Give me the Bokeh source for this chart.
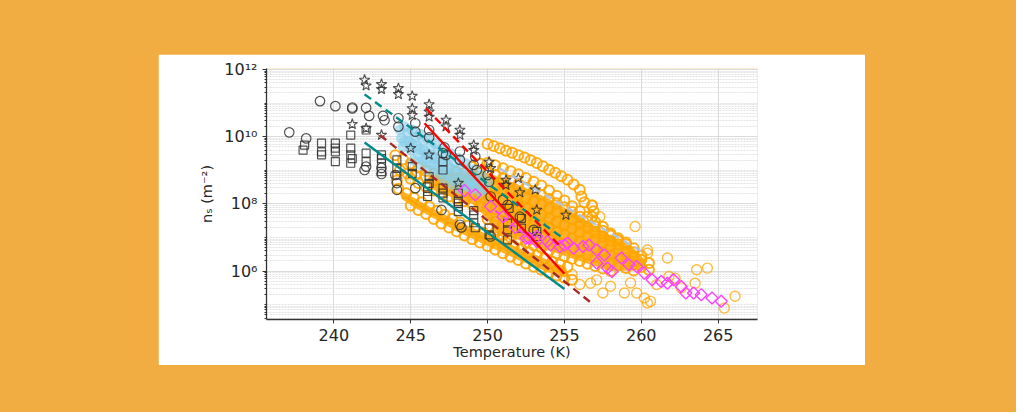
from bokeh.plotting import figure
from bokeh.models import Range1d, FixedTicker
from bokeh.layouts import column
from bokeh.embed import file_html
from bokeh.resources import INLINE

# axis ticks / labels
x_ticks = [240, 245, 250, 255, 260, 265]
y_ticks = [1e6, 1e8, 1e10, 1e12]
y_tick_labels = ["10⁶", "10⁸", "10¹⁰", "10¹²"]

# black open circles (temperature K, log10 ns)
circ_t = [237.1, 239.1, 238.2, 240.1, 241.2, 241.2, 242.1, 242.3, 243.2, 243.3, 244.2, 244.2,
          245.3, 245.3, 246.2, 246.2, 247.2, 247.3, 247.1, 248.2, 248.2, 249.2, 249.1, 249.3,
          250.0, 250.1, 251.0, 250.2, 251.3, 252.1, 253.0, 242.0, 242.1, 243.1, 243.1, 244.0,
          244.1, 244.1, 245.3, 247.0, 248.2, 248.3, 250.2]
circ_log = [10.13, 11.06, 9.95, 10.91, 10.87, 10.84, 10.86, 10.62, 10.62, 10.49, 10.55, 10.30,
            10.40, 10.15, 10.20, 9.98, 9.68, 9.46, 9.51, 9.56, 9.31, 9.41, 9.16, 9.01,
            8.86, 8.66, 8.12, 8.22, 7.97, 7.62, 7.23, 9.01, 9.11, 9.07, 8.89, 8.86,
            8.62, 8.42, 8.47, 7.82, 7.38, 7.30, 7.03]

# black open stars
star_t = [242.0, 242.1, 243.1, 243.1, 244.2, 244.2, 245.1, 245.1, 245.1, 246.2, 246.2, 246.2,
          247.3, 247.3, 248.2, 248.2, 249.1, 249.1, 250.1, 250.2, 251.2, 251.2, 252.0, 252.1,
          253.1, 253.2, 255.1, 241.2, 242.1, 245.0, 246.2, 248.1, 243.1]
star_log = [11.69, 11.52, 11.56, 11.41, 11.44, 11.26, 11.21, 10.84, 10.64, 10.96, 10.74, 10.59,
            10.50, 10.30, 10.20, 10.05, 9.75, 9.60, 9.25, 9.06, 8.71, 8.56, 8.76, 8.34,
            8.42, 7.82, 7.67, 10.37, 10.25, 9.66, 9.46, 8.62, 10.05]

# black open squares
sq_t = [238.0, 238.1, 239.2, 239.2, 239.2, 240.1, 240.1, 240.1, 241.1, 241.1, 241.1, 241.1,
        242.1, 242.1, 242.1, 243.1, 243.1, 243.1, 244.1, 244.1, 244.1, 245.1, 245.1, 246.1,
        246.1, 246.2, 246.2, 247.1, 247.1, 247.1, 247.1, 247.1, 248.1, 248.1, 248.1, 249.1,
        249.1, 249.2, 250.1, 250.1, 251.3, 251.3, 251.3, 251.4, 252.2, 252.2, 253.2, 253.2,
        240.1, 241.2, 243.1, 249.1, 248.1, 248.1, 246.1]
sq_log = [9.60, 9.75, 9.81, 9.55, 9.46, 9.81, 9.55, 9.26, 10.05, 9.66, 9.46, 9.21,
          10.20, 9.51, 9.26, 9.46, 9.21, 8.96, 9.31, 9.06, 8.86, 9.11, 8.91, 8.51,
          8.37, 8.81, 8.61, 8.47, 8.32, 8.18, 9.26, 9.01, 8.07, 7.92, 7.77, 7.67,
          7.44, 7.29, 7.28, 7.08, 7.43, 7.23, 6.93, 7.87, 7.57, 7.28, 7.18, 7.03,
          9.66, 9.35, 9.35, 7.80, 8.32, 8.02, 8.22]

# light blue cloud
blue_t = [244.3, 244.8, 245.3, 245.8, 246.3, 246.8, 247.3, 247.8, 248.3, 248.8, 249.3,
          244.4, 244.9, 245.4, 245.9, 246.4, 246.9, 247.4, 247.9, 248.4, 248.9, 249.4,
          244.5, 245.0, 245.5, 246.0, 246.5, 247.0, 247.5, 248.0, 248.5, 249.0,
          245.2, 245.7, 246.2, 246.7, 247.2, 247.7, 248.2,
          244.6, 245.1, 245.6, 246.1, 246.6, 247.1, 247.6, 248.1, 248.6, 249.1,
          244.6, 245.1, 245.6, 246.1, 246.6, 247.1, 247.6, 248.1, 248.6, 249.1, 249.6, 250.0,
          249.8, 249.5, 248.8, 245.8, 246.3, 246.8, 247.3, 247.8]
blue_log = [10.20, 10.10, 10.00, 9.88, 9.72, 9.58, 9.42, 9.26, 9.10, 8.92, 8.72,
            9.95, 9.85, 9.72, 9.58, 9.45, 9.30, 9.15, 9.00, 8.85, 8.70, 8.55,
            9.70, 9.60, 9.46, 9.32, 9.18, 9.02, 8.88, 8.72, 8.58, 8.45,
            9.30, 9.15, 9.00, 8.86, 8.72, 8.58, 8.45,
            9.85, 9.78, 9.62, 9.48, 9.33, 9.18, 9.05, 8.90, 8.74, 8.60,
            10.30, 10.20, 10.08, 9.95, 9.80, 9.65, 9.50, 9.35, 9.20, 9.02, 8.85, 8.65,
            8.45, 8.35, 8.50, 9.30, 9.15, 9.00, 8.85, 8.70]

# orange open circles, read along the visible streaks of the cloud
orange_a = [(250.0, 9.78), (250.4, 9.72), (250.8, 9.66), (251.2, 9.58), (251.6, 9.52), (252.0, 9.45),
            (252.4, 9.38), (252.8, 9.30), (253.2, 9.22), (253.6, 9.12), (254.0, 9.02), (254.4, 8.93),
            (254.8, 8.82), (255.2, 8.72), (255.6, 8.58), (256.0, 8.42), (256.1, 8.22), (256.3, 8.05),
            (256.8, 7.95), (256.9, 7.78), (256.8, 7.62)]
orange_b = [(249.0, 9.10), (249.5, 9.20), (250.0, 9.22), (250.5, 9.15), (251.0, 9.06), (251.5, 8.97),
            (252.0, 8.88), (252.5, 8.77), (253.0, 8.66), (253.5, 8.55), (254.0, 8.40), (254.5, 8.24),
            (255.0, 8.10), (255.5, 7.93), (256.0, 7.78), (256.5, 7.62), (257.0, 7.46), (257.5, 7.32),
            (258.0, 7.12), (258.5, 6.98), (259.0, 6.85)]
orange_c = [(248.0, 8.95), (248.5, 8.92), (249.0, 8.90), (249.5, 8.93), (250.0, 8.92), (250.5, 8.85),
            (251.0, 8.76), (251.5, 8.68), (252.0, 8.58), (252.5, 8.48), (253.0, 8.38), (253.5, 8.27),
            (254.0, 8.15), (254.5, 8.02), (255.0, 7.90), (255.5, 7.76), (256.0, 7.62), (256.5, 7.48),
            (257.0, 7.33), (257.5, 7.20), (258.0, 7.06), (258.5, 6.92), (259.0, 6.80), (259.5, 6.68)]
orange_d = [(247.0, 8.85), (247.5, 8.78), (248.0, 8.72), (248.5, 8.66), (249.0, 8.62), (249.5, 8.62),
            (250.0, 8.60), (250.5, 8.52), (251.0, 8.44), (251.5, 8.36), (252.0, 8.27), (252.5, 8.18),
            (253.0, 8.08), (253.5, 7.98), (254.0, 7.87), (254.5, 7.76), (255.0, 7.64), (255.5, 7.52),
            (256.0, 7.40), (256.5, 7.28), (257.0, 7.15), (257.5, 7.03), (258.0, 6.90), (258.5, 6.80),
            (259.0, 6.68), (259.5, 6.56), (260.0, 6.46)]
orange_e = [(246.0, 8.80), (246.5, 8.70), (247.0, 8.60), (247.5, 8.52), (248.0, 8.45), (248.5, 8.38),
            (249.0, 8.32), (249.5, 8.28), (250.0, 8.25), (250.5, 8.20), (251.0, 8.12), (251.5, 8.04),
            (252.0, 7.96), (252.5, 7.87), (253.0, 7.78), (253.5, 7.68), (254.0, 7.58), (254.5, 7.48),
            (255.0, 7.38), (255.5, 7.27), (256.0, 7.16), (256.5, 7.05), (257.0, 6.94), (257.5, 6.84),
            (258.0, 6.74), (258.5, 6.64), (259.0, 6.54), (259.5, 6.44), (260.0, 6.34), (260.5, 6.24)]
orange_f = [(245.0, 8.75), (245.5, 8.62), (246.0, 8.50), (246.5, 8.40), (247.0, 8.30), (247.5, 8.22),
            (248.0, 8.15), (248.5, 8.08), (249.0, 8.00), (249.5, 7.94), (250.0, 7.90), (250.5, 7.84),
            (251.0, 7.76), (251.5, 7.68), (252.0, 7.60), (252.5, 7.52), (253.0, 7.44), (253.5, 7.35),
            (254.0, 7.26), (254.5, 7.17), (255.0, 7.08), (255.5, 6.98), (256.0, 6.88), (256.5, 6.78),
            (257.0, 6.68), (257.5, 6.58), (258.0, 6.48), (258.5, 6.38), (259.0, 6.29), (259.5, 6.20),
            (260.0, 6.12), (260.5, 6.04)]
orange_g = [(250.0, 7.55), (250.5, 7.48), (251.0, 7.40), (251.5, 7.33), (252.0, 7.25), (252.5, 7.17),
            (253.0, 7.09), (253.5, 7.00), (254.0, 6.92), (254.5, 6.84), (255.0, 6.76), (255.5, 6.67),
            (256.0, 6.58), (256.5, 6.50), (257.0, 6.41), (257.5, 6.33), (258.0, 6.25), (258.5, 6.17),
            (259.0, 6.09), (259.5, 6.02)]
orange_h = [(250.5, 7.15), (251.0, 7.08), (251.5, 7.00), (252.0, 6.93), (252.5, 6.85), (253.0, 6.77),
            (253.5, 6.69), (254.0, 6.61), (254.5, 6.53), (255.0, 6.45), (255.5, 6.37), (256.0, 6.30),
            (256.5, 6.22), (257.0, 6.15), (257.5, 6.08), (258.0, 6.00)]
orange_i = [(244.2, 8.45), (244.7, 8.32), (245.2, 8.18), (245.7, 8.05), (246.2, 7.92), (246.7, 7.80),
            (247.2, 7.68), (247.7, 7.56), (248.2, 7.45), (248.7, 7.35), (249.2, 7.25), (249.7, 7.15),
            (250.2, 7.05), (250.7, 6.95), (251.2, 6.85), (251.7, 6.75), (252.2, 6.66), (252.7, 6.56),
            (253.2, 6.47), (253.7, 6.38), (254.2, 6.28), (254.7, 6.20), (255.2, 6.12)]
orange_j = [(245.0, 7.95), (245.5, 7.82), (246.0, 7.70), (246.5, 7.55), (247.0, 7.42), (247.5, 7.30),
            (248.0, 7.18), (248.5, 7.06), (249.0, 6.95), (249.5, 6.85), (250.0, 6.75), (250.5, 6.64),
            (251.0, 6.53), (251.5, 6.43), (252.0, 6.33), (252.5, 6.23), (253.0, 6.13), (253.5, 6.04),
            (254.0, 5.95), (254.5, 5.87), (255.0, 5.80), (255.5, 5.74)]
orange_k = [(244.0, 9.45), (244.5, 9.32), (245.0, 9.20), (245.5, 9.08), (246.0, 8.98), (246.5, 8.90),
            (244.3, 9.00), (244.8, 8.90), (245.3, 8.85), (244.1, 8.70)]
orange_loose = [(257.1, 5.74), (257.5, 5.35), (258.9, 5.35), (259.7, 5.35), (260.2, 5.20), (260.6, 5.10),
                (263.6, 6.04), (264.3, 6.09), (263.5, 5.64), (266.1, 5.25), (265.4, 4.90), (261.8, 5.84),
                (262.2, 5.79), (260.4, 6.63), (260.4, 6.53), (261.7, 6.39), (259.6, 7.33), (258.4, 6.93),
                (256.8, 7.97), (257.3, 7.62), (257.9, 7.10), (262.6, 5.50), (261.0, 5.60), (259.3, 5.65),
                (258.0, 5.55), (256.0, 5.60), (255.5, 5.90), (256.7, 5.64), (260.4, 5.05)]

# outlines of the solid-looking cores of the orange cloud
core_upper_t = [247.0, 248.0, 250.0, 252.0, 254.0, 256.0, 258.0, 259.5, 260.3,
                260.3, 259.5, 258.0, 256.0, 254.0, 252.0, 250.5, 250.0, 249.0, 247.0, 246.2, 246.2]
core_upper_log = [8.85, 8.95, 8.92, 8.58, 8.15, 7.62, 7.06, 6.68, 6.30,
                  6.10, 6.02, 6.00, 6.30, 6.61, 6.93, 7.15, 7.55, 8.00, 8.30, 8.48, 8.78]
core_lower_t = [244.4, 246.2, 248.2, 250.2, 252.2, 254.2, 255.1,
                255.3, 254.0, 252.0, 250.0, 248.0, 246.0, 245.1, 244.4]
core_lower_log = [8.40, 7.92, 7.45, 7.05, 6.66, 6.28, 6.12,
                  5.78, 5.95, 6.33, 6.75, 7.18, 7.70, 7.93, 8.15]

# magenta open diamonds
diam_t = [248.5, 249.2, 250.2, 251.0, 251.8, 252.5, 252.7, 253.2, 253.2, 253.9, 254.1, 254.7,
          255.0, 255.2, 255.6, 256.2, 256.6, 257.1, 257.1, 257.6, 257.8, 258.1, 258.7, 259.2,
          259.7, 260.2, 260.7, 261.3, 261.7, 262.1, 262.6, 262.9, 263.4, 263.9, 264.6, 265.2]
diam_log = [8.40, 8.27, 7.92, 7.62, 7.30, 6.98, 6.98, 7.03, 6.88, 6.88, 6.78, 6.73,
            6.78, 6.83, 6.68, 6.73, 6.78, 6.63, 6.24, 6.48, 6.09, 5.99, 6.39, 6.19,
            6.14, 5.94, 5.74, 5.69, 5.64, 5.74, 5.54, 5.35, 5.35, 5.30, 5.20, 5.10]

# fitted lines: (t_start, t_end), (log_start, log_end)
teal_dash = ([242.0, 255.0], [11.26, 6.95])
teal_solid = ([242.0, 255.0], [9.83, 5.47])
brown_dash = ([243.0, 256.9], [10.05, 5.00])
red_dash = ([246.0, 254.85], [10.84, 6.68])
red_solid = ([245.9, 255.0], [10.40, 5.92])
grey_dash = ([250.8, 260.0], [9.05, 6.60])
pink_dash = ([250.5, 252.8], [7.80, 6.95])


def ns(logs):
    return [10 ** v for v in logs]


p = figure(width=707, height=311, x_range=Range1d(235.62, 267.56),
           y_range=Range1d(10 ** 4.56, 10 ** 12.03), y_axis_type="log",
           output_backend="svg", toolbar_location=None, tools="",
           min_border_left=108, min_border_right=108, min_border_top=14, min_border_bottom=46,
           outline_line_color=None, background_fill_color="white", border_fill_color="white",
           margin=(62, 0, 0, 166))

# grid
p.xgrid.grid_line_color = "#d2d2d2"
p.xgrid.grid_line_width = 0.8
p.ygrid.grid_line_color = "#d2d2d2"
p.ygrid.grid_line_width = 0.8
p.ygrid.minor_grid_line_color = "#dcdcdc"
p.ygrid.minor_grid_line_width = 0.8
p.ygrid.minor_grid_line_dash = "2 1"

# axes
minor = [k * 10.0 ** e for e in range(4, 13) for k in range(1, 10) if not (k == 1 and e % 2 == 0)]
p.yaxis.ticker = FixedTicker(ticks=y_ticks, minor_ticks=minor)
p.yaxis.major_label_overrides = dict(zip(y_ticks, y_tick_labels))
p.xaxis.ticker = FixedTicker(ticks=x_ticks)
for ax in (p.xaxis, p.yaxis):
    ax.axis_line_color = "#333333"
    ax.axis_line_width = 1.3
    ax.major_tick_line_color = "#333333"
    ax.minor_tick_line_color = "#333333"
    ax.major_tick_out = 4
    ax.major_tick_in = 0
    ax.minor_tick_out = 2
    ax.minor_tick_in = 0
    ax.major_label_text_font = "DejaVu Sans"
    ax.major_label_text_font_size = "16px"
    ax.major_label_text_color = "#262626"
    ax.major_label_standoff = 5
    ax.axis_label_text_font = "DejaVu Sans"
    ax.axis_label_text_font_size = "14.5px"
    ax.axis_label_text_font_style = "normal"
    ax.axis_label_text_color = "#262626"
p.xaxis.minor_tick_line_color = None
p.xaxis.axis_label = "Temperature (K)"
p.xaxis.axis_label_standoff = 0
p.yaxis.axis_label = "nₛ (m⁻²)"
p.yaxis.axis_label_standoff = 6

# orange cloud: filled cores under the dense streaks, then the loose outliers
p.patch(core_upper_t, ns(core_upper_log), fill_color="#FFA500", fill_alpha=0.85, line_color=None)
p.patch(core_lower_t, ns(core_lower_log), fill_color="#FFA500", fill_alpha=0.85, line_color=None)
orange_dense = (orange_a + orange_b + orange_c + orange_d + orange_e + orange_f + orange_g +
                orange_h + orange_i + orange_j + orange_k)
p.scatter([t for t, _ in orange_dense], ns([v for _, v in orange_dense]), marker="circle", size=10,
          fill_color=None, line_color="#FFA500", line_width=2.0, line_alpha=0.9)
p.scatter([t for t, _ in orange_loose], ns([v for _, v in orange_loose]), marker="circle", size=10,
          fill_color=None, line_color="#FFA500", line_width=1.4, line_alpha=0.75)

# light blue cloud
p.scatter(blue_t, ns(blue_log), marker="circle", size=10, fill_color="#87CEEB", fill_alpha=0.6,
          line_color="#87CEEB", line_alpha=0.5)

# black markers
p.scatter(circ_t, ns(circ_log), marker="circle", size=9.5, fill_color=None, line_color="#333333",
          line_width=1.2, line_alpha=0.85)
p.scatter(sq_t, ns(sq_log), marker="square", size=8, fill_color=None, line_color="#333333",
          line_width=1.2, line_alpha=0.85)
p.scatter(star_t, ns(star_log), marker="star", size=11, fill_color=None, line_color="#333333",
          line_width=1.1, line_alpha=0.85)

# magenta diamonds
p.scatter(diam_t, ns(diam_log), marker="square", angle=0.785, size=8.5, fill_color=None,
          line_color="#FF40FF", line_width=1.4)

# lines
p.line(teal_dash[0], ns(teal_dash[1]), line_color="#008B8B", line_width=2.4, line_dash="8 5")
p.line(teal_solid[0], ns(teal_solid[1]), line_color="#008B8B", line_width=2.4)
p.line(brown_dash[0], ns(brown_dash[1]), line_color="#A52A2A", line_width=2.4, line_dash="8 5")
p.line(red_dash[0], ns(red_dash[1]), line_color="#FF0000", line_width=2.4, line_dash="8 5")
p.line(red_solid[0], ns(red_solid[1]), line_color="#FF0000", line_width=2.4)
p.line(grey_dash[0], ns(grey_dash[1]), line_color="#B0C4DE", line_width=2.4, line_dash="8 5")
p.line(pink_dash[0], ns(pink_dash[1]), line_color="#FF40FF", line_width=2.0, line_dash="6 4")

page = column(p, width=1024, height=420, margin=(-8, -8, -8, -8),
              styles={"background-color": "#F1AD41"})

open("out.html", "w").write(file_html(page, INLINE))
